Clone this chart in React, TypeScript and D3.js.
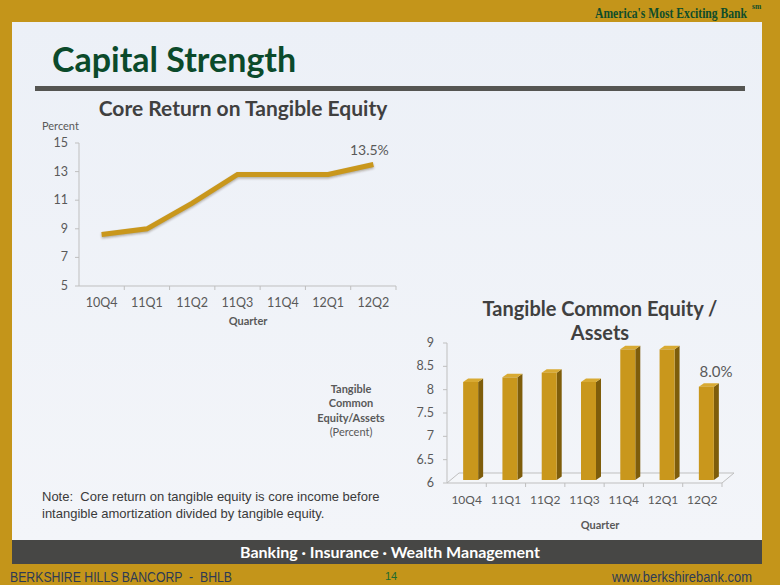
import React from "react";
import * as d3 from "d3";

const quarters = ["10Q4", "11Q1", "11Q2", "11Q3", "11Q4", "12Q1", "12Q2"];
const roteValues = [8.6, 9.0, 10.8, 12.8, 12.8, 12.8, 13.5];
const roteTicks = [5, 7, 9, 11, 13, 15];
const tceValues = [8.1, 8.2, 8.3, 8.1, 8.8, 8.8, 8.0];
const tceTicks = [6, 6.5, 7, 7.5, 8, 8.5, 9];

const GOLD = "#C4951A";
const BAR = "#C9971C";
const BAR_SIDE = "#7E5D0B";
const BAR_TOP = "#D8AA33";
const AXIS = "#BFBFBF";
const TXT = "#595959";
const FONT = "Lato, 'Open Sans', sans-serif";
const SANS = "'Liberation Sans', Arial, sans-serif";

export default function App() {
  const lx = d3.scaleBand<string>().domain(quarters).range([79, 396]);
  const ly = d3.scaleLinear().domain([5, 15]).range([286, 143]);
  const line = d3
    .line<number>()
    .x((_, i) => (lx(quarters[i]) as number) + lx.bandwidth() / 2)
    .y((d) => ly(d));
  const linePath = line(roteValues) || "";

  const bx = d3.scaleBand<string>().domain(quarters).range([447, 722]);
  const by = d3.scaleLinear().domain([6, 9]).range([483, 343]);
  const depthX = 12;
  const depthY = -10;
  const barW = 15;
  const bdx = 5;
  const bdy = -3.5;
  const barOff = 3;

  const last = roteValues.length - 1;

  return (
    <svg width={780} height={585} style={{ position: "absolute", left: 0, top: 0 }}>
      <defs>
        <linearGradient id="panel" x1="0" y1="0" x2="0" y2="1">
          <stop offset="0" stopColor="#ECF0F7" />
          <stop offset="1" stopColor="#F3F5F9" />
        </linearGradient>
        <filter id="shadow" x="-10%" y="-30%" width="120%" height="160%">
          <feGaussianBlur stdDeviation="1.2" />
        </filter>
      </defs>
      <rect x={0} y={0} width={780} height={585} fill={GOLD} />
      <rect x={12} y={22} width={750} height={518} fill="url(#panel)" />

      {/* Header */}
      <text transform="translate(747,18) scale(0.83,1)" x={0} y={0} textAnchor="end" fontFamily="'Liberation Serif', 'DejaVu Serif', serif" fontWeight="bold" fontSize={14} fill="#0F4D2A">
        America's Most Exciting Bank
      </text>
      <text x={752} y={9} fontFamily="'Liberation Serif', serif" fontWeight="bold" fontSize={7.5} fill="#0F4D2A">
        sm
      </text>
      <text x={52} y={72} fontFamily={FONT} fontWeight="bold" fontSize={34} fill="#0B4A2B">
        Capital Strength
      </text>
      <rect x={35} y={86} width={710} height={5} fill="#555552" />

      {/* Line chart */}
      <text x={243} y={116} textAnchor="middle" fontFamily={FONT} fontWeight="bold" fontSize={21} fill="#404040">
        Core Return on Tangible Equity
      </text>
      <text x={42} y={130} fontFamily={FONT} fontSize={11} fill={TXT}>
        Percent
      </text>
      <line x1={79} x2={79} y1={ly(15)} y2={ly(5)} stroke={AXIS} />
      <line x1={79} x2={396} y1={ly(5)} y2={ly(5)} stroke={AXIS} />
      {roteTicks.map((t) => (
        <g key={"lt" + t}>
          <line x1={75} x2={79} y1={ly(t)} y2={ly(t)} stroke={AXIS} />
          <text x={68} y={ly(t) + 4} textAnchor="end" fontFamily={FONT} fontSize={12.5} fill={TXT}>
            {t}
          </text>
        </g>
      ))}
      {quarters.map((q) => (
        <g key={"lq" + q}>
          <line x1={(lx(q) as number) + lx.bandwidth()} x2={(lx(q) as number) + lx.bandwidth()} y1={ly(5)} y2={ly(5) + 4} stroke={AXIS} />
          <text x={(lx(q) as number) + lx.bandwidth() / 2} y={307} textAnchor="middle" fontFamily={FONT} fontSize={12.5} fill={TXT}>
            {q}
          </text>
        </g>
      ))}
      <text x={248} y={325} textAnchor="middle" fontFamily={FONT} fontWeight="bold" fontSize={11} fill={TXT}>
        Quarter
      </text>
      <path d={linePath} fill="none" stroke="rgba(60,40,0,0.35)" strokeWidth={5} transform="translate(0,1.5)" filter="url(#shadow)" />
      <path d={linePath} fill="none" stroke={BAR} strokeWidth={5} strokeLinejoin="miter" />
      <text
        x={(lx(quarters[last]) as number) + lx.bandwidth() / 2 - 4}
        y={ly(roteValues[last]) - 9}
        textAnchor="middle"
        fontFamily={FONT}
        fontSize={14}
        fill={TXT}
      >
        13.5%
      </text>

      {/* Bar chart */}
      <text x={600} y={316} textAnchor="middle" fontFamily={FONT} fontWeight="bold" fontSize={20} fill="#404040">
        Tangible Common Equity /
      </text>
      <text x={600} y={340} textAnchor="middle" fontFamily={FONT} fontWeight="bold" fontSize={20} fill="#404040">
        Assets
      </text>
      <g fontFamily={FONT} fontSize={11} fill={TXT} textAnchor="middle">
        <text x={351} y={393} fontWeight="bold">Tangible</text>
        <text x={351} y={407} fontWeight="bold">Common</text>
        <text x={351} y={422} fontWeight="bold">Equity/Assets</text>
        <text x={351} y={436}>(Percent)</text>
      </g>
      <path
        d={`M${447},${by(6)} L${722},${by(6)} L${722 + depthX},${by(6) + depthY} L${447 + depthX},${by(6) + depthY} Z`}
        fill="#F4F6F9"
        stroke={AXIS}
      />
      <line x1={447} x2={447} y1={by(9)} y2={by(6)} stroke={AXIS} />
      {tceTicks.map((t) => (
        <g key={"bt" + t}>
          <line x1={443} x2={447} y1={by(t)} y2={by(t)} stroke={AXIS} />
          <text x={434} y={by(t) + 4} textAnchor="end" fontFamily={FONT} fontSize={12.5} fill={TXT}>
            {t}
          </text>
        </g>
      ))}
      {quarters.map((q) => (
        <g key={"bq" + q}>
          <line x1={(bx(q) as number) + bx.bandwidth()} x2={(bx(q) as number) + bx.bandwidth()} y1={by(6)} y2={by(6) + 4} stroke={AXIS} />
          <text x={(bx(q) as number) + bx.bandwidth() / 2} y={504} textAnchor="middle" fontFamily={FONT} fontSize={12} fill={TXT}>
            {q}
          </text>
        </g>
      ))}
      {tceValues.map((v, i) => {
        const x0 = (bx(quarters[i]) as number) + bx.bandwidth() / 2 + 4 - barW / 2;
        const yTop = by(v) - barOff;
        const yBot = by(6) - barOff;
        return (
          <g key={"bar" + i}>
            <path
              d={`M${x0 + barW},${yTop} L${x0 + barW + bdx},${yTop + bdy} L${x0 + barW + bdx},${yBot + bdy} L${x0 + barW},${yBot} Z`}
              fill={BAR_SIDE}
            />
            <path
              d={`M${x0},${yTop} L${x0 + bdx},${yTop + bdy} L${x0 + barW + bdx},${yTop + bdy} L${x0 + barW},${yTop} Z`}
              fill={BAR_TOP}
            />
            <rect x={x0} y={yTop} width={barW} height={yBot - yTop} fill={BAR} />
          </g>
        );
      })}
      <text x={716} y={377} textAnchor="middle" fontFamily={FONT} fontSize={15} fill={TXT}>
        8.0%
      </text>
      <text x={600} y={529} textAnchor="middle" fontFamily={FONT} fontWeight="bold" fontSize={11} fill={TXT}>
        Quarter
      </text>

      {/* Note */}
      <g fontFamily={SANS} fontSize={13} fill="#3A3A3A">
        <text x={42} y={501} xmlSpace="preserve">{"Note:\u00A0 Core return on tangible equity is core income before"}</text>
        <text x={42} y={518}>intangible amortization divided by tangible equity.</text>
      </g>

      {/* Footer */}
      <rect x={12} y={540} width={750} height={24} fill="#474745" />
      <text x={390} y={558} textAnchor="middle" fontFamily={FONT} fontWeight="bold" fontSize={16} fill="#FFFFFF">
        Banking · Insurance · Wealth Management
      </text>
      <text x={10} y={582} fontFamily="'Liberation Sans Narrow', 'Liberation Sans', Arial, sans-serif" fontSize={14} fill="#2D3A55" textLength={222} lengthAdjust="spacingAndGlyphs">
        {"BERKSHIRE HILLS BANCORP \u00A0-\u00A0 BHLB"}
      </text>
      <text x={391} y={580} textAnchor="middle" fontFamily={SANS} fontSize={11} fill="#1E6A2E">
        14
      </text>
      <text x={752} y={582} textAnchor="end" fontFamily="'Liberation Sans Narrow', 'Liberation Sans', Arial, sans-serif" fontSize={14} fill="#2D3A55" textLength={140} lengthAdjust="spacingAndGlyphs">
        www.berkshirebank.com
      </text>
    </svg>
  );
}
